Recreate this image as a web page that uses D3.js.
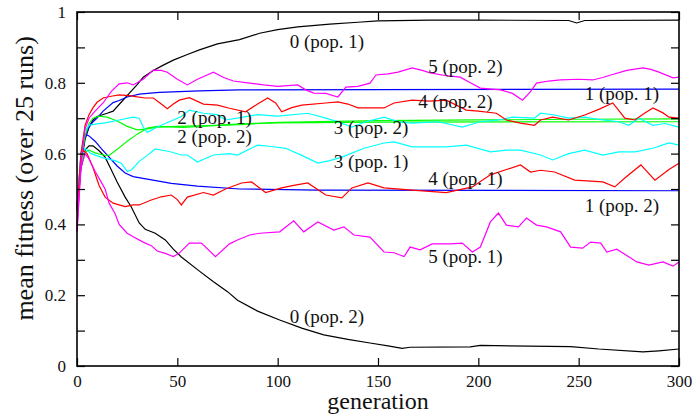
<!DOCTYPE html>
<html>

<head>
    <title>Mean fitness per generation</title>
    <script src="https://d3js.org/d3.v7.min.js"></script>
    <style>
        body { margin: 0; background: #fff; }
        text { font-family: "Liberation Serif", "DejaVu Serif", serif; fill: #111; }
    </style>
</head>

<body>
    <script>
        // [generation, mean fitness]
        const s0pop1 = [[0,0.45],[2,0.57],[4,0.64],[6,0.675],[8,0.695],[10,0.705],[15,0.714],[18,0.72],[22,0.745],[26,0.77],[30,0.795],[33,0.816],[38,0.835],[43,0.85],[48,0.864],[55,0.88],[61,0.893],[70,0.91],[81,0.922],[91,0.94],[100,0.95],[110,0.958],[126,0.966],[140,0.971],[150,0.975],[176,0.977],[200,0.977],[245,0.976],[249,0.969],[253,0.976],[300,0.977]];
        const s0pop2 = [[0,0.44],[2,0.56],[4,0.61],[6,0.622],[8,0.622],[11,0.608],[14,0.59],[17,0.555],[20,0.52],[24,0.477],[27,0.45],[31,0.404],[34,0.386],[39,0.375],[44,0.356],[48,0.33],[52,0.308],[61,0.268],[68,0.238],[75,0.21],[80,0.186],[90,0.155],[101,0.13],[112,0.107],[123,0.088],[135,0.075],[146,0.065],[155,0.057],[162,0.05],[166,0.053],[196,0.054],[201,0.058],[246,0.055],[260,0.048],[282,0.04],[290,0.043],[300,0.048]];
        const s1pop1 = [[0,0.45],[2,0.58],[4,0.645],[6,0.675],[8,0.69],[10,0.70],[13,0.72],[18,0.744],[21,0.75],[25,0.76],[31,0.768],[41,0.773],[61,0.777],[81,0.78],[150,0.781],[300,0.782]];
        const s1pop2 = [[0,0.45],[2,0.6],[4,0.655],[6,0.65],[9,0.635],[12,0.615],[16,0.59],[20,0.565],[24,0.545],[28,0.535],[35,0.528],[47,0.516],[60,0.508],[81,0.50],[120,0.497],[300,0.495]];
        const s2pop1 = [[0,0.45],[2,0.58],[4,0.65],[6,0.685],[8,0.70],[11,0.706],[15,0.703],[20,0.692],[25,0.677],[30,0.667],[35,0.67],[40,0.675],[50,0.677],[70,0.68],[81,0.682],[100,0.688],[150,0.693],[200,0.695],[250,0.697],[300,0.698]];
        const s2pop2 = [[0,0.44],[2,0.57],[4,0.605],[6,0.61],[9,0.602],[13,0.596],[16,0.595],[20,0.612],[25,0.635],[30,0.655],[35,0.672],[40,0.677],[53,0.674],[70,0.68],[81,0.684],[100,0.687],[150,0.689],[300,0.69]];
        const s3pop1 = [[0,0.44],[2,0.58],[4,0.615],[7,0.6],[13,0.588],[19,0.58],[22,0.573],[25,0.55],[27,0.553],[31,0.578],[35,0.595],[39,0.613],[46,0.606],[52,0.596],[55,0.596],[60,0.576],[68,0.596],[76,0.60],[80,0.596],[90,0.624],[97,0.62],[104,0.615],[112,0.595],[120,0.573],[126,0.58],[132,0.59],[143,0.615],[153,0.63],[158,0.633],[167,0.619],[184,0.619],[194,0.624],[206,0.605],[214,0.61],[221,0.61],[231,0.596],[237,0.582],[245,0.6],[253,0.61],[262,0.596],[270,0.605],[278,0.605],[287,0.615],[295,0.63],[300,0.624]];
        const s3pop2 = [[0,0.44],[2,0.6],[4,0.665],[6,0.68],[10,0.684],[14,0.687],[21,0.695],[28,0.703],[31,0.70],[33,0.675],[35,0.66],[40,0.675],[46,0.69],[52,0.705],[56,0.723],[63,0.714],[70,0.71],[74,0.695],[80,0.70],[90,0.71],[100,0.706],[115,0.714],[124,0.70],[130,0.69],[137,0.675],[144,0.69],[153,0.703],[160,0.69],[167,0.686],[180,0.69],[192,0.675],[201,0.69],[210,0.695],[217,0.703],[228,0.70],[231,0.714],[238,0.709],[245,0.70],[253,0.703],[262,0.695],[270,0.69],[275,0.68],[280,0.70],[287,0.68],[293,0.685],[300,0.675]];
        const s4pop1 = [[0,0.40],[2,0.58],[3,0.61],[5,0.6],[8,0.56],[11,0.51],[14,0.477],[18,0.46],[24,0.45],[28,0.455],[31,0.455],[37,0.469],[42,0.478],[47,0.483],[50,0.47],[52,0.455],[55,0.477],[63,0.49],[68,0.483],[74,0.50],[82,0.517],[87,0.52],[94,0.49],[102,0.503],[108,0.51],[115,0.517],[124,0.483],[132,0.475],[137,0.503],[145,0.517],[153,0.503],[167,0.497],[184,0.49],[197,0.506],[206,0.54],[214,0.555],[221,0.568],[226,0.548],[231,0.553],[238,0.548],[248,0.525],[262,0.52],[268,0.506],[273,0.531],[281,0.568],[288,0.525],[295,0.555],[300,0.573]];
        const s4pop2 = [[0,0.44],[2,0.6],[4,0.68],[6,0.71],[8,0.73],[10,0.745],[13,0.757],[17,0.762],[21,0.766],[26,0.764],[30,0.76],[34,0.757],[38,0.757],[42,0.74],[45,0.727],[48,0.74],[51,0.751],[56,0.758],[63,0.74],[70,0.737],[76,0.728],[84,0.718],[90,0.74],[95,0.757],[99,0.743],[102,0.718],[107,0.73],[112,0.737],[124,0.743],[130,0.746],[135,0.74],[140,0.729],[153,0.729],[158,0.743],[167,0.751],[176,0.748],[184,0.751],[194,0.723],[200,0.72],[209,0.714],[214,0.695],[221,0.686],[228,0.68],[231,0.695],[237,0.703],[245,0.695],[253,0.709],[260,0.725],[267,0.743],[273,0.70],[278,0.695],[283,0.715],[287,0.729],[292,0.715],[295,0.703],[300,0.70]];
        const s5pop1 = [[0,0.38],[2,0.56],[4,0.6],[6,0.585],[9,0.55],[12,0.52],[14,0.5],[16,0.46],[19,0.43],[21,0.40],[25,0.375],[28,0.365],[33,0.35],[37,0.34],[40,0.325],[44,0.318],[48,0.309],[51,0.319],[56,0.347],[62,0.347],[69,0.309],[76,0.345],[80,0.356],[86,0.37],[91,0.375],[101,0.379],[108,0.41],[113,0.379],[120,0.407],[128,0.384],[133,0.393],[138,0.37],[146,0.364],[153,0.322],[158,0.32],[163,0.309],[166,0.336],[171,0.328],[177,0.345],[186,0.345],[192,0.347],[197,0.322],[201,0.336],[206,0.407],[210,0.432],[214,0.398],[220,0.393],[224,0.418],[229,0.398],[234,0.393],[241,0.379],[246,0.336],[252,0.333],[256,0.35],[261,0.347],[264,0.322],[269,0.33],[279,0.294],[285,0.285],[292,0.294],[297,0.282],[300,0.294]];
        const s5pop2 = [[0,0.38],[2,0.58],[4,0.67],[6,0.70],[9,0.72],[13,0.743],[17,0.775],[21,0.797],[25,0.80],[28,0.794],[33,0.81],[38,0.836],[42,0.835],[45,0.83],[50,0.81],[55,0.794],[60,0.81],[64,0.82],[68,0.83],[73,0.815],[78,0.805],[85,0.80],[93,0.794],[100,0.79],[110,0.794],[114,0.78],[118,0.771],[124,0.77],[130,0.76],[134,0.788],[140,0.79],[146,0.799],[149,0.822],[155,0.825],[160,0.83],[167,0.842],[172,0.835],[176,0.828],[184,0.82],[191,0.816],[196,0.80],[201,0.785],[211,0.78],[217,0.77],[222,0.751],[226,0.775],[229,0.799],[235,0.805],[241,0.808],[250,0.81],[257,0.808],[262,0.815],[266,0.822],[274,0.835],[282,0.842],[286,0.838],[290,0.83],[297,0.814],[300,0.816]];

        const strategyColors = ["#000000", "#0000ff", "#00ff00", "#00ffff", "#ff0000", "#ff00ff"];
        const xTicks = [0, 50, 100, 150, 200, 250, 300];
        const yTicks = [0, 0.1, 0.2, 0.3, 0.4, 0.5, 0.6, 0.7, 0.8, 0.9, 1];

        // strategy, population, points
        const series = [
            [0, 1, s0pop1], [0, 2, s0pop2], [1, 1, s1pop1], [1, 2, s1pop2],
            [2, 1, s2pop1], [2, 2, s2pop2], [3, 1, s3pop1], [3, 2, s3pop2],
            [4, 1, s4pop1], [4, 2, s4pop2], [5, 1, s5pop1], [5, 2, s5pop2]
        ];

        // curve labels: text, generation, fitness (baseline-left)
        const labels = [
            ["0 (pop. 1)", 106, 0.898], ["5 (pop. 2)", 175, 0.828],
            ["4 (pop. 2)", 170, 0.729], ["1 (pop. 1)", 253, 0.751],
            ["2 (pop. 1)", 50, 0.683], ["2 (pop. 2)", 50, 0.631],
            ["3 (pop. 2)", 128, 0.655], ["3 (pop. 1)", 128, 0.559],
            ["4 (pop. 1)", 175, 0.511], ["1 (pop. 2)", 253, 0.435],
            ["5 (pop. 1)", 175, 0.291], ["0 (pop. 2)", 106, 0.121]
        ];

        const width = 693, height = 416;
        const margin = { top: 12, right: 14, bottom: 50, left: 77 };
        const w = width - margin.left - margin.right;
        const h = height - margin.top - margin.bottom;

        const svg = d3.select("body").append("svg")
            .attr("width", width)
            .attr("height", height);

        const g = svg.append("g")
            .attr("transform", `translate(${margin.left},${margin.top})`);

        const x = d3.scaleLinear().domain([0, 300]).range([0, w]);
        const y = d3.scaleLinear().domain([0, 1]).range([h, 0]);

        const line = d3.line()
            .x(d => x(d[0]))
            .y(d => y(d[1]));

        g.append("g")
            .selectAll("path")
            .data(series)
            .enter().append("path")
            .attr("d", d => line(d[2]))
            .attr("fill", "none")
            .attr("stroke", d => strategyColors[d[0]])
            .attr("stroke-width", 1.2);

        const yLabel = d => (Math.round(d * 10) % 2 === 0) ? String(+d.toFixed(1)) : "";

        g.append("g")
            .attr("transform", `translate(0,${h})`)
            .call(d3.axisBottom(x).tickValues(xTicks).tickSizeInner(-8).tickSizeOuter(0).tickPadding(9))
            .call(a => a.selectAll("text").style("font-size", "17px"));
        g.append("g")
            .call(d3.axisTop(x).tickValues(xTicks).tickSizeInner(-8).tickSizeOuter(0).tickFormat(""));
        g.append("g")
            .call(d3.axisLeft(y).tickValues(yTicks).tickFormat(yLabel).tickSizeInner(-8).tickSizeOuter(0).tickPadding(11))
            .call(a => a.selectAll("text").style("font-size", "17px"));
        g.append("g")
            .attr("transform", `translate(${w},0)`)
            .call(d3.axisRight(y).tickValues(yTicks).tickFormat("").tickSizeInner(-8).tickSizeOuter(0));

        g.selectAll(".domain").remove();
        g.selectAll(".tick line").attr("stroke", "#000").attr("stroke-width", 1.2);

        g.append("rect")
            .attr("width", w)
            .attr("height", h)
            .attr("fill", "none")
            .attr("stroke", "#000")
            .attr("stroke-width", 1.6);

        g.append("g")
            .selectAll("text")
            .data(labels)
            .enter().append("text")
            .attr("x", d => x(d[1]))
            .attr("y", d => y(d[2]))
            .style("font-size", "19px")
            .text(d => d[0]);

        svg.append("text")
            .attr("x", margin.left + x(150))
            .attr("y", 409)
            .attr("text-anchor", "middle")
            .style("font-size", "24px")
            .text("generation");

        svg.append("text")
            .attr("transform", `translate(33,${margin.top + y(0.53)}) rotate(-90)`)
            .attr("text-anchor", "middle")
            .style("font-size", "26px")
            .text("mean fitness (over 25 runs)");
    </script>
</body>

</html>
